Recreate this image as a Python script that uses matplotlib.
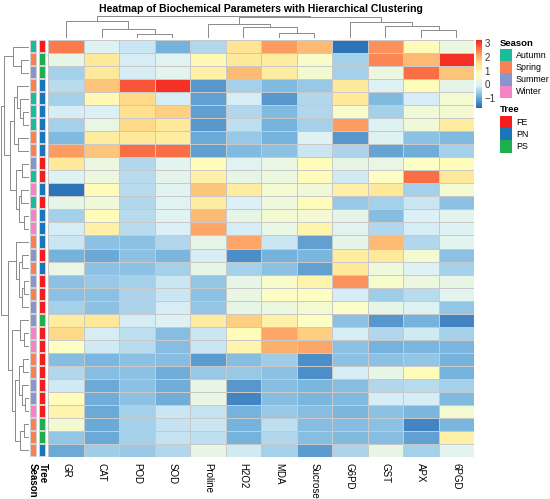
import numpy as np
import matplotlib
matplotlib.use("Agg")
import matplotlib.pyplot as plt
from matplotlib.colors import LinearSegmentedColormap, ListedColormap
from matplotlib.patches import Rectangle

plt.rcParams['font.family'] = ['Liberation Sans', 'DejaVu Sans']

# ---- data ----
columns = ["GR", "CAT", "POD", "SOD", "Proline", "H2O2", "MDA", "Sucrose",
           "G6PD", "GST", "APX", "6PGD"]

values = np.array([
    [2.5, 0.0, -0.2, -0.9, -0.4, 1.4, 2.2, 1.9, -1.6, 2.3, 0.8, 0.3],
    [0.2, 1.3, -0.1, 0.05, 0.9, 1.3, 1.2, 0.6, -0.5, 2.4, 1.9, 3.1],
    [-0.5, 1.3, -0.1, 0.1, 1.1, 1.9, 1.2, 0.5, -0.5, 0.3, 2.6, 1.8],
    [-0.35, 1.8, 2.8, 3.1, -1.2, -0.5, -0.8, -0.6, 1.3, 0.0, 0.8, 0.15],
    [-0.5, 0.9, 1.6, -0.1, -1.1, -0.1, -1.2, -0.4, 1.3, -0.8, -0.1, 0.5],
    [-0.1, -0.05, 1.5, 1.7, -1.1, -0.4, -0.8, -0.4, 0.6, -0.5, 0.4, 0.5],
    [-0.5, 0.25, 1.6, 1.3, -1.2, -0.3, -0.9, -0.5, 2.2, 0.0, 0.4, 1.2],
    [-0.8, 1.2, 1.3, 1.2, -1.0, -0.6, -0.9, 0.0, -1.2, 0.0, -0.7, -0.8],
    [2.2, 1.8, 2.6, 2.6, -1.1, -0.8, -0.7, -0.2, -0.45, -1.05, -0.95, -0.5],
    [1.3, 0.3, -0.4, 0.1, 0.8, 0.05, 0.25, 0.8, 0.2, 0.25, 0.7, 0.8],
    [0.0, 0.3, -0.35, 0.15, 1.1, 0.2, 0.3, 0.8, -0.15, 0.7, 2.6, 1.3],
    [-1.6, 0.8, -0.35, 0.05, 1.8, 1.2, 0.5, 0.4, 1.1, 1.3, -0.5, 0.5],
    [0.2, 0.4, -0.4, 0.05, 1.2, -0.05, 0.35, 0.8, -0.6, -0.5, -0.2, -0.7],
    [-0.5, 0.8, -0.35, 0.05, 1.9, 0.2, 0.5, 0.5, 0.15, -0.75, -0.05, 0.1],
    [-0.1, 1.1, -0.35, -0.05, 2.1, -0.1, 0.25, 1.0, 0.05, -0.4, -0.1, 0.0],
    [-0.2, -0.7, -0.7, -0.4, 0.2, 2.1, -0.2, -1.1, 0.15, 1.9, -0.4, 0.1],
    [-0.9, -1.0, -0.7, -0.85, -0.1, -1.3, -0.9, -0.85, 1.2, 1.3, 0.5, -0.7],
    [0.25, -0.7, -0.7, -0.5, 0.2, -0.5, -0.7, -1.1, 1.3, 0.35, 0.0, -0.5],
    [-0.7, -0.6, -0.5, -0.2, -0.65, 0.2, 0.6, 1.0, 2.3, 0.6, 0.3, 0.2],
    [-0.7, -0.7, -0.45, -0.2, -0.7, 0.25, 0.7, 0.7, -0.1, -0.55, -0.35, 0.1],
    [-0.5, -0.7, -0.45, -0.1, -0.65, 0.2, 0.3, 0.5, 0.65, 0.2, 0.0, -0.65],
    [1.2, 1.3, -0.1, 0.0, 1.2, 1.7, 1.1, 0.7, -0.7, -1.2, -0.9, -1.4],
    [1.6, -0.1, -0.3, -0.75, -0.2, 0.8, 2.1, 1.7, -0.1, -0.4, -0.15, -0.5],
    [0.7, -0.15, -0.35, -0.75, -0.2, 1.0, 2.0, 2.1, -0.7, -0.9, -0.85, -0.85],
    [-0.75, -0.85, -0.7, -0.75, -1.15, -0.75, -0.55, -1.3, -0.7, -0.7, -0.65, -0.9],
    [-0.4, -0.75, -0.7, -0.95, -0.6, -0.6, -0.7, -1.3, -0.1, 0.2, 0.8, -0.9],
    [-0.15, -1.0, -0.7, -0.95, 0.2, -1.2, -0.75, -0.85, -0.75, -0.4, -0.35, -0.5],
    [0.8, -0.95, -0.7, -0.95, 0.25, -1.4, -0.75, -0.85, -0.8, -0.1, -0.1, -0.8],
    [1.0, -1.0, -0.5, -0.2, -0.25, -0.9, -0.6, -0.75, -0.85, -0.7, -0.85, 0.5],
    [0.5, -1.0, -0.5, -0.25, -0.2, -0.9, -0.3, -0.75, -0.75, -0.7, -1.4, -0.85],
    [-0.65, -1.0, -0.5, -0.25, -0.3, -0.9, -0.4, -0.75, -0.8, -0.75, -1.1, 1.1],
    [-1.0, -0.55, -0.6, -0.4, 0.2, -0.15, -0.5, -1.15, -0.45, 0.2, -0.5, 0.1],
])

season = ["Autumn", "Spring", "Summer", "Spring", "Autumn", "Autumn", "Autumn", "Spring",
          "Spring", "Summer", "Autumn", "Winter", "Autumn", "Winter", "Winter", "Spring",
          "Summer", "Spring", "Summer", "Spring", "Summer", "Summer", "Winter", "Winter",
          "Spring", "Spring", "Summer", "Summer", "Winter", "Spring", "Spring", "Spring"]

tree = ["FE", "PS", "PS", "PN", "PN", "PN", "PN", "PN",
        "PN", "FE", "FE", "PN", "FE", "PN", "PN", "PN",
        "FE", "PN", "FE", "FE", "FE", "PS", "FE", "FE",
        "FE", "FE", "FE", "FE", "FE", "PS", "PS", "PN"]

season_levels = ["Autumn", "Spring", "Summer", "Winter"]
tree_levels = ["FE", "PN", "PS"]
season_colors = ["#1BBC9B", "#FA8155", "#8797CB", "#F683C6"]
tree_colors = ["#F21D1D", "#1A75BA", "#1DAF4C"]

# dendrograms: (left, right, merge height)
col_tree = (("GR", ("CAT", ("POD", "SOD", 4), 8.7), 17),
            (("Proline", ("H2O2", ("MDA", "Sucrose", 5), 10.3), 13.7),
             ("G6PD", ("GST", ("APX", "6PGD", 7.7), 12), 15.3), 20.3), 22)

top_a1 = (1, (2, 3, 8), 16)
top_a2 = ((4, (5, (6, 7, 6), 9), 12), (8, 9, 11.5), 15)
top_b = ((10, 11, 7), ((12, 13, 8), (14, 15, 5), 10), 13)
low_c = (16, ((17, 18, 7), ((19, 20, 5), 21, 7), 10), 13)
low_d = (22, (23, 24, 5), 9)
low_e = (((25, 26, 6), (27, (28, 29, 4), 7), 10), ((30, 31, 5), 32, 9), 14)
row_tree = ((top_a1, (top_a2, top_b, 19), 25), (low_c, (low_d, low_e, 17), 21), 28)

# ---- figure ----
W, H = 550, 499
fig = plt.figure(figsize=(W / 100, H / 100), dpi=100)


def px_axes(x0, y0, x1, y1):
    return fig.add_axes([x0 / W, 1 - y1 / H, (x1 - x0) / W, (y1 - y0) / H])


cmap = LinearSegmentedColormap.from_list(
    "rdylbu", ["#236AB2", "#78B4DD", "#DCF1F7", "#FFFFBF", "#FEDE8A", "#FC8A56", "#F4241D"], N=100)
vmin, vmax = -1.7, 3.2

hx0, hx1, hy0, hy1 = 48.3, 474, 40, 457
ax = px_axes(hx0, hy0, hx1, hy1)
n_rows, n_cols = values.shape
mesh = ax.pcolormesh(values, cmap=cmap, vmin=vmin, vmax=vmax,
                     edgecolors="#c9c9c9", linewidth=0.5)
ax.set_xlim(0, n_cols)
ax.set_ylim(n_rows, 0)
ax.set_xticks(np.arange(n_cols) + 0.5)
ax.set_xticklabels(columns, rotation=270, fontsize=7)
ax.set_yticks([])
ax.tick_params(length=0, pad=4)
for s in ax.spines.values():
    s.set_visible(False)

# annotation columns
for (x0, x1, labels, levels, colors, name) in [
        (29.5, 36.6, season, season_levels, season_colors, "Season"),
        (39.0, 46.2, tree, tree_levels, tree_colors, "Tree")]:
    a = px_axes(x0, hy0, x1, hy1)
    codes = np.array([[levels.index(v)] for v in labels])
    a.pcolormesh(codes, cmap=ListedColormap(colors), vmin=-0.5, vmax=len(levels) - 0.5,
                 edgecolors="#d0d0d0", linewidth=0.2)
    a.set_ylim(n_rows, 0)
    a.set_xticks([0.5])
    a.set_xticklabels([name], rotation=270, fontsize=7, fontweight="bold")
    a.set_yticks([])
    a.tick_params(length=0, pad=4)
    for s in a.spines.values():
        s.set_visible(False)


def draw_tree(axis, node, pos, vertical):
    if not isinstance(node, tuple):
        return pos(node), 0.0
    left, right, h = node
    pl, hl = draw_tree(axis, left, pos, vertical)
    pr, hr = draw_tree(axis, right, pos, vertical)
    xs = [pl, pl, pr, pr]
    ys = [hl, h, h, hr]
    if vertical:
        axis.plot(xs, ys, color="#8a8a8a", lw=0.7, solid_capstyle="butt")
    else:
        axis.plot(ys, xs, color="#8a8a8a", lw=0.7, solid_capstyle="butt")
    return (pl + pr) / 2, h


# top dendrogram
tax = px_axes(hx0, 13.5, hx1, 37.5)
draw_tree(tax, col_tree, lambda c: columns.index(c) + 0.5, True)
tax.set_xlim(0, n_cols)
tax.set_ylim(0, 24)
tax.axis("off")

# left dendrogram
lax = px_axes(0, hy0, 29, hy1)
draw_tree(lax, row_tree, lambda r: r - 0.5, False)
lax.set_ylim(n_rows, 0)
lax.set_xlim(29, 0)
lax.axis("off")

# colorbar
cax = px_axes(476, 40, 481.5, 108)
cb = fig.colorbar(mesh, cax=cax, ticks=[-1, 0, 1, 2, 3])
cb.outline.set_visible(False)
cb.ax.tick_params(length=0, labelsize=7, pad=2, colors="#333333")

# legends
fig.text(500 / W, 1 - 44 / H, "Season", fontsize=6.8, fontweight="bold", va="center", ha="left")
for i, (lab, col) in enumerate(zip(season_levels, season_colors)):
    y = 49 + i * 12.2
    fig.patches.append(Rectangle((500 / W, 1 - (y + 12.2) / H), 12 / W, 12.2 / H,
                                 transform=fig.transFigure, facecolor=col, edgecolor="none"))
    fig.text(516 / W, 1 - (y + 6.1) / H, lab, fontsize=6.4, va="center", ha="left")

fig.text(500 / W, 1 - 110 / H, "Tree", fontsize=6.8, fontweight="bold", va="center", ha="left")
for i, (lab, col) in enumerate(zip(tree_levels, tree_colors)):
    y = 116 + i * 12.2
    fig.patches.append(Rectangle((500 / W, 1 - (y + 12.2) / H), 12 / W, 12.2 / H,
                                 transform=fig.transFigure, facecolor=col, edgecolor="none"))
    fig.text(516 / W, 1 - (y + 6.1) / H, lab, fontsize=6.4, va="center", ha="left")

fig.text((hx0 + hx1) / 2 / W, 1 - 9 / H,
         "Heatmap of Biochemical Parameters with Hierarchical Clustering",
         fontsize=7.6, fontweight="bold", ha="center", va="center")

fig.savefig("out.png", dpi=100)
